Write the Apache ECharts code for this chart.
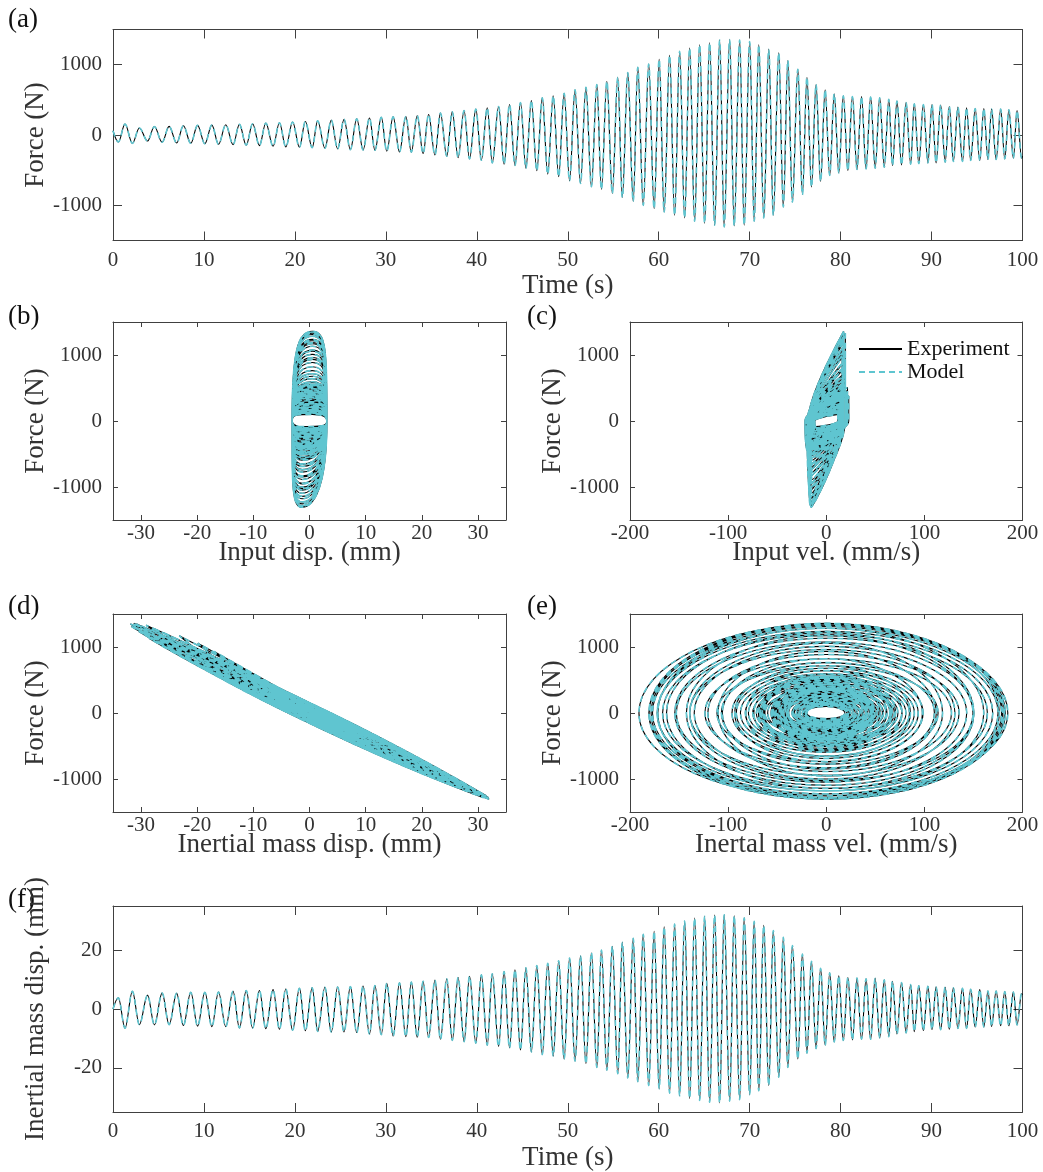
<!DOCTYPE html>
<html>
<head>
<meta charset="utf-8">
<script src="https://cdn.jsdelivr.net/npm/echarts@6/dist/echarts.min.js"></script>
<style>
  html, body { margin: 0; padding: 0; background: #fff; }
  #chart { width: 1043px; height: 1172px; }
</style>
</head>
<body>
<div id="chart"></div>
<script>
// Chirp test record: times (s) of the successive extrema of the inertial-mass
// displacement, the displacement at those instants (mm) and the force (N).
const extTime = [
  0, 0.59, 1.32, 2.13, 2.9, 3.8, 4.55, 5.4, 6.17, 7.0,
  7.74, 8.55, 9.3, 10.1, 10.87, 11.6, 12.4, 13.2, 13.9, 14.65,
  15.35, 16.1, 16.8, 17.6, 18.3, 19.0, 19.75, 20.5, 21.15, 21.9,
  22.5, 23.3, 24.0, 24.7, 25.4, 26.1, 26.8, 27.5, 28.2, 28.8,
  29.5, 30.1, 30.8, 31.5, 32.2, 32.8, 33.45, 34.1, 34.7, 35.4,
  36.0, 36.7, 37.3, 37.95, 38.6, 39.2, 39.9, 40.5, 41.15, 41.7,
  42.4, 43.0, 43.6, 44.2, 44.8, 45.4, 46.0, 46.6, 47.2, 47.8,
  48.4, 49.0, 49.6, 50.2, 50.8, 51.4, 52.0, 52.6, 53.2, 53.7,
  54.3, 54.9, 55.5, 56.0, 56.6, 57.2, 57.7, 58.3, 58.9, 59.5,
  60.05, 60.6, 61.2, 61.75, 62.3, 62.85, 63.4, 63.95, 64.5, 65.05,
  65.6, 66.15, 66.7, 67.2, 67.8, 68.3, 68.9, 69.4, 70.0, 70.5,
  71.0, 71.55, 72.1, 72.6, 73.2, 73.7, 74.2, 74.7, 75.3, 75.8,
  76.3, 76.8, 77.3, 77.8, 78.3, 78.8, 79.3, 79.8, 80.3, 80.8,
  81.3, 81.8, 82.3, 82.8, 83.3, 83.8, 84.3, 84.8, 85.3, 85.7,
  86.2, 86.7, 87.2, 87.7, 88.1, 88.6, 89.1, 89.6, 90.05, 90.5,
  91.0, 91.5, 91.95, 92.4, 92.9, 93.4, 93.85, 94.3, 94.8, 95.3,
  95.75, 96.2, 96.6, 97.1, 97.6, 98.05, 98.5, 99.0, 99.4, 99.9,
  100
];
const massDispExt = [
  0, 3.8, -6.5, 6.0, -5.3, 4.7, -5.4, 5.4, -5.3, 5.3,
  -5.6, 5.7, -5.8, 5.7, -6.0, 5.8, -6.0, 6.0, -6.4, 6.3,
  -6.5, 6.3, -6.7, 6.6, -6.9, 6.8, -7.2, 7.0, -7.4, 7.2,
  -7.6, 7.4, -7.8, 7.5, -7.8, 7.6, -8.0, 7.8, -8.5, 8.0,
  -8.7, 8.7, -9.2, 8.9, -9.4, 9.2, -9.6, 9.4, -9.7, 9.8,
  -10.3, 10.3, -10.7, 10.7, -11.1, 11.1, -11.6, 11.6, -12.3, 12.0,
  -12.7, 12.7, -13.2, 13.3, -13.9, 14.0, -14.6, 14.8, -15.5, 15.5,
  -16.0, 16.4, -17.0, 17.3, -17.7, 18.1, -18.6, 19.1, -19.9, 20.0,
  -20.8, 21.3, -22.0, 22.7, -23.4, 24.0, -24.7, 25.4, -26.0, 26.4,
  -27.1, 27.9, -28.6, 28.9, -29.5, 29.9, -30.4, 30.9, -31.1, 31.5,
  -31.7, 31.9, -31.9, 32.0, -31.3, 31.7, -30.8, 31.0, -29.1, 29.8,
  -27.8, 28.4, -26.0, 26.7, -23.2, 24.4, -19.9, 21.6, -17.0, 18.7,
  -15.0, 16.2, -13.5, 13.8, -12.3, 12.3, -11.2, 11.3, -10.7, 10.7,
  -10.5, 10.5, -10.3, 10.3, -10.3, 10.4, -9.8, 9.9, -9.4, 9.4,
  -8.5, 9.0, -8.1, 8.3, -7.7, 7.9, -7.3, 7.7, -7.0, 7.5,
  -7.0, 7.4, -6.9, 7.2, -6.6, 7.0, -6.6, 6.7, -6.1, 6.6,
  -6.1, 6.1, -5.9, 6.1, -5.7, 5.9, -5.7, 5.8, -5.4, 5.2,
  4.8
];
const forceExt = [
  60, -100, 156, -120, 100, -85, 120, -104, 123, -113,
  132, -118, 137, -125, 141, -132, 146, -137, 151, -145,
  160, -151, 170, -160, 175, -170, 184, -175, 193, -180,
  203, -189, 212, -198, 222, -208, 231, -212, 241, -217,
  250, -230, 258, -240, 264, -245, 274, -264, 292, -283,
  311, -302, 330, -321, 349, -340, 368, -358, 387, -396,
  406, -415, 434, -434, 462, -472, 490, -509, 528, -557,
  557, -594, 594, -651, 642, -689, 679, -736, 717, -774,
  764, -830, 821, -887, 887, -943, 962, -1000, 1009, -1047,
  1075, -1094, 1132, -1142, 1190, -1179, 1236, -1226, 1283, -1255,
  1311, -1283, 1349, -1307, 1358, -1292, 1349, -1283, 1330, -1226,
  1283, -1179, 1217, -1142, 1170, -1024, 1057, -953, 934, -849,
  821, -740, 717, -660, 642, -575, 585, -538, 557, -505,
  547, -491, 547, -481, 538, -472, 528, -458, 509, -434,
  481, -425, 462, -415, 443, -406, 434, -396, 434, -396,
  425, -387, 406, -377, 396, -377, 387, -363, 377, -363,
  377, -349, 368, -349, 368, -340, 358, -330, 349, -330,
  -300
];

// Input (terminal) motion: displacement amplitude (mm) and the input
// displacement at which the force peaks / troughs (mm).
const inputDispAmp = 3.1;
const inputDispAtForcePeak = 0.5;
const inputDispAtForceTrough = -1.3;
// Input velocity at the force peak / trough, as a share of its amplitude.
const inputVelShareAtPeak = 1.0;
const inputVelShareAtTrough = 0.87;
// Mass displacement still left when the force crosses zero, as a share of
// the half-cycle amplitude (width of the force-displacement loops).
const massDispShareAtZeroForce = 0.12;

// Tick values
const forceTicks = [-1000, 0, 1000];
const massDispTicks = [-20, 0, 20];
const timeTicks = [0, 10, 20, 30, 40, 50, 60, 70, 80, 90, 100];
const mmTicks = [-30, -20, -10, 0, 10, 20, 30];
const velTicks = [-200, -100, 0, 100, 200];

// ---- series data -------------------------------------------------------
const forceTime = extTime.map((t, i) => [t, forceExt[i]]);
const dispTime = extTime.map((t, i) => [t, massDispExt[i]]);

const forceInDisp = [], forceInVel = [], forceMassDisp = [], forceMassVel = [];
const first = 1, last = extTime.length - 2; // extrema only
// half period around extremum i, taken over a full cycle to steady the timing
function halfPeriod(i) {
  if (i + 2 <= last) return (extTime[i + 2] - extTime[i]) / 2;
  if (i - 2 >= first) return (extTime[i] - extTime[i - 2]) / 2;
  return extTime[i + 1] - extTime[i];
}
for (let i = first; i <= last; i++) {
  const f = forceExt[i];
  const up = f > 0;
  const hp = halfPeriod(i);
  const vin = Math.PI * inputDispAmp / hp;
  forceMassDisp.push([massDispExt[i], f]);
  forceMassVel.push([0, f]);
  forceInDisp.push([up ? inputDispAtForcePeak : inputDispAtForceTrough, f]);
  forceInVel.push([(up ? inputVelShareAtPeak : -inputVelShareAtTrough) * vin, f]);
  if (i < last) {
    // half-cycle to the next extremum: force crosses zero while the mass moves fastest
    const d0 = massDispExt[i], d1 = massDispExt[i + 1];
    const v = Math.PI / 2 * (d1 - d0) / hp;
    forceMassVel.push([v, 0]);
    forceMassDisp.push([Math.sign(d1) * massDispShareAtZeroForce * (Math.abs(d0) + Math.abs(d1)) / 2, 0]);
    forceInDisp.push([(up ? 1 : -1) * inputDispAmp, 0]);
    forceInVel.push([(up ? 1 : -1) * vin, 0]);
  }
}

// ---- styling -------------------------------------------------------------
const FONT = 'Liberation Serif';
const TEXT = '#333333';
const AXIS = '#404040';
const CYAN = '#5fc5d0';

const grids = [
  { left: 113, top: 29.5, width: 909.5, height: 211 },   // (a)
  { left: 113, top: 322, width: 393, height: 198 },      // (b)
  { left: 630, top: 322, width: 392.5, height: 198 },    // (c)
  { left: 113, top: 614, width: 393, height: 198 },      // (d)
  { left: 630, top: 614, width: 392.5, height: 198 },    // (e)
  { left: 113, top: 906, width: 909.5, height: 211 }     // (f)
];

function axisPair(dim, gridIndex, o) {
  const base = {
    type: 'value', gridIndex, min: o.min, max: o.max, scale: false,
    axisLine: { show: true, onZero: false, lineStyle: { color: AXIS, width: 1 } },
    axisTick: { show: true, inside: true, length: o.tickLen, customValues: o.ticks,
                lineStyle: { color: AXIS, width: 1 } },
    splitLine: { show: false }
  };
  const main = Object.assign({}, base, {
    position: dim === 'x' ? 'bottom' : 'left',
    name: o.name, nameLocation: 'middle', nameGap: o.nameGap, nameMoveOverlap: false,
    nameTextStyle: { fontFamily: FONT, fontSize: 27, color: TEXT },
    axisLabel: { show: true, customValues: o.ticks, margin: o.labelMargin,
                 fontFamily: FONT, fontSize: 21, color: TEXT,
                 formatter: (v) => String(v) }
  });
  const mirror = Object.assign({}, base, {
    position: dim === 'x' ? 'top' : 'right',
    axisLabel: { show: false }
  });
  return [main, mirror];
}

const xAxes = [].concat(
  axisPair('x', 0, { min: 0, max: 100, ticks: timeTicks, tickLen: 9, name: 'Time (s)', nameGap: 32, labelMargin: 9 }),
  axisPair('x', 1, { min: -35, max: 35, ticks: mmTicks, tickLen: 5, name: 'Input disp. (mm)', nameGap: 19, labelMargin: 3 }),
  axisPair('x', 2, { min: -200, max: 200, ticks: velTicks, tickLen: 5, name: 'Input vel. (mm/s)', nameGap: 19, labelMargin: 3 }),
  axisPair('x', 3, { min: -35, max: 35, ticks: mmTicks, tickLen: 5, name: 'Inertial mass disp. (mm)', nameGap: 19, labelMargin: 3 }),
  axisPair('x', 4, { min: -200, max: 200, ticks: velTicks, tickLen: 5, name: 'Inertal mass vel. (mm/s)', nameGap: 19, labelMargin: 3 }),
  axisPair('x', 5, { min: 0, max: 100, ticks: timeTicks, tickLen: 9, name: 'Time (s)', nameGap: 32, labelMargin: 9 })
);
const yAxes = [].concat(
  axisPair('y', 0, { min: -1500, max: 1500, ticks: forceTicks, tickLen: 9, name: 'Force (N)', nameGap: 64, labelMargin: 11 }),
  axisPair('y', 1, { min: -1500, max: 1500, ticks: forceTicks, tickLen: 5, name: 'Force (N)', nameGap: 64, labelMargin: 11 }),
  axisPair('y', 2, { min: -1500, max: 1500, ticks: forceTicks, tickLen: 5, name: 'Force (N)', nameGap: 64, labelMargin: 11 }),
  axisPair('y', 3, { min: -1500, max: 1500, ticks: forceTicks, tickLen: 5, name: 'Force (N)', nameGap: 64, labelMargin: 11 }),
  axisPair('y', 4, { min: -1500, max: 1500, ticks: forceTicks, tickLen: 5, name: 'Force (N)', nameGap: 64, labelMargin: 11 }),
  axisPair('y', 5, { min: -35, max: 35, ticks: massDispTicks, tickLen: 9, name: 'Inertial mass disp. (mm)', nameGap: 64, labelMargin: 11 })
);

function pair(g, data, extra) {
  const common = Object.assign({ type: 'line', xAxisIndex: 2 * g, yAxisIndex: 2 * g,
    symbol: 'none', showSymbol: false, data, silent: true, clip: true }, extra);
  return [
    Object.assign({}, common, { name: 'Experiment', z: 2,
      lineStyle: { color: '#000000', width: 1.1 }, itemStyle: { color: '#000000' } }),
    Object.assign({}, common, { name: 'Model', z: 3,
      lineStyle: { color: CYAN, width: 1.6, type: [6, 4] }, itemStyle: { color: CYAN } })
  ];
}

const series = [].concat(
  pair(0, forceTime, { smooth: 0.36, smoothMonotone: 'x' }),
  pair(1, forceInDisp, { smooth: 0.8 }),
  pair(2, forceInVel, { smooth: 0.3 }),
  pair(3, forceMassDisp, { smooth: 0.5 }),
  pair(4, forceMassVel, { smooth: 0.55 }),
  pair(5, dispTime, { smooth: 0.36, smoothMonotone: 'x' })
);

function panelLabel(text, left, top) {
  return { type: 'text', left, top, silent: true,
    style: { text, font: '27px "Liberation Serif"', fill: '#111111' } };
}

const chart = echarts.init(document.getElementById('chart'), null, { renderer: 'canvas' });
chart.setOption({
  animation: false,
  backgroundColor: '#ffffff',
  grid: grids,
  xAxis: xAxes,
  yAxis: yAxes,
  legend: {
    data: ['Experiment', 'Model'],
    orient: 'vertical', left: 858, top: 338,
    itemWidth: 43, itemHeight: 12, itemGap: 1, padding: 0,
    itemStyle: { opacity: 0 },
    textStyle: { fontFamily: FONT, fontSize: 22, color: '#111111' },
    selectedMode: false
  },
  graphic: [
    panelLabel('(a)', 8, 6),
    panelLabel('(b)', 8, 303),
    panelLabel('(c)', 527, 303),
    panelLabel('(d)', 8, 593),
    panelLabel('(e)', 527, 593),
    panelLabel('(f)', 8, 886)
  ],
  series
});
</script>
</body>
</html>
